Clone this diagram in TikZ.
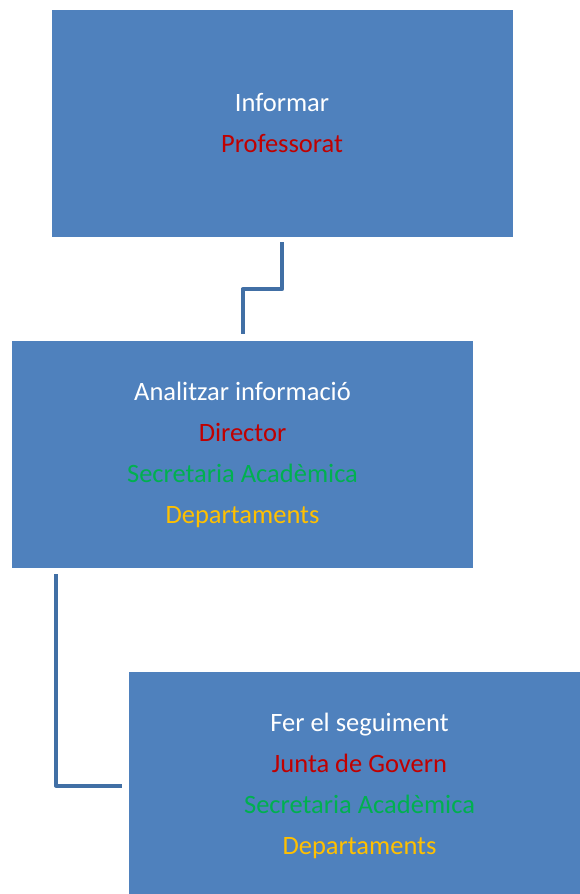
\documentclass[tikz,border=0pt]{standalone}
\usepackage{fontspec}
\setmainfont{Carlito}
\usepackage{xcolor}
\usetikzlibrary{calc}
\definecolor{boxblue}{RGB}{79,129,189}
\definecolor{linkblue}{RGB}{65,111,165}
\definecolor{txtred}{RGB}{192,0,0}
\definecolor{txtgreen}{RGB}{0,176,80}
\definecolor{txtyellow}{RGB}{255,192,0}
\tikzset{
  stepbox/.style={fill=boxblue, draw=none, minimum width=461pt, minimum height=227pt,
    inner sep=0pt, align=center, text=white, font=\fontsize{26.5}{41}\selectfont},
  link/.style={draw=linkblue, line width=4pt, line join=round}
}

\begin{document}
\begin{tikzpicture}[x=1pt,y=-1pt]
        %MARGINS
        \useasboundingbox (0,0) rectangle (579,894);

        %BOXES
        \node[stepbox] (inform) at (282,123.5) {Informar\\\textcolor{txtred}{Professorat}};
        \node[stepbox] (analyse) at (242.5,454.5) {Analitzar informació\\\textcolor{txtred}{Director}\\
          \textcolor{txtgreen}{Secretaria Acadèmica}\\\textcolor{txtyellow}{Departaments}};
        \node[stepbox] (follow) at (359.5,785.5) {Fer el seguiment\\\textcolor{txtred}{Junta de Govern}\\
          \textcolor{txtgreen}{Secretaria Acadèmica}\\\textcolor{txtyellow}{Departaments}};

        %CONNECTORS
        \draw[link, shorten <=5pt, shorten >=7pt] (inform.south) -- ++(0,52) -| (analyse.north);
        \draw[link, shorten <=6pt, shorten >=7pt] ([xshift=44pt]analyse.south west) |- (follow.west);
    \end{tikzpicture}
\end{document}
